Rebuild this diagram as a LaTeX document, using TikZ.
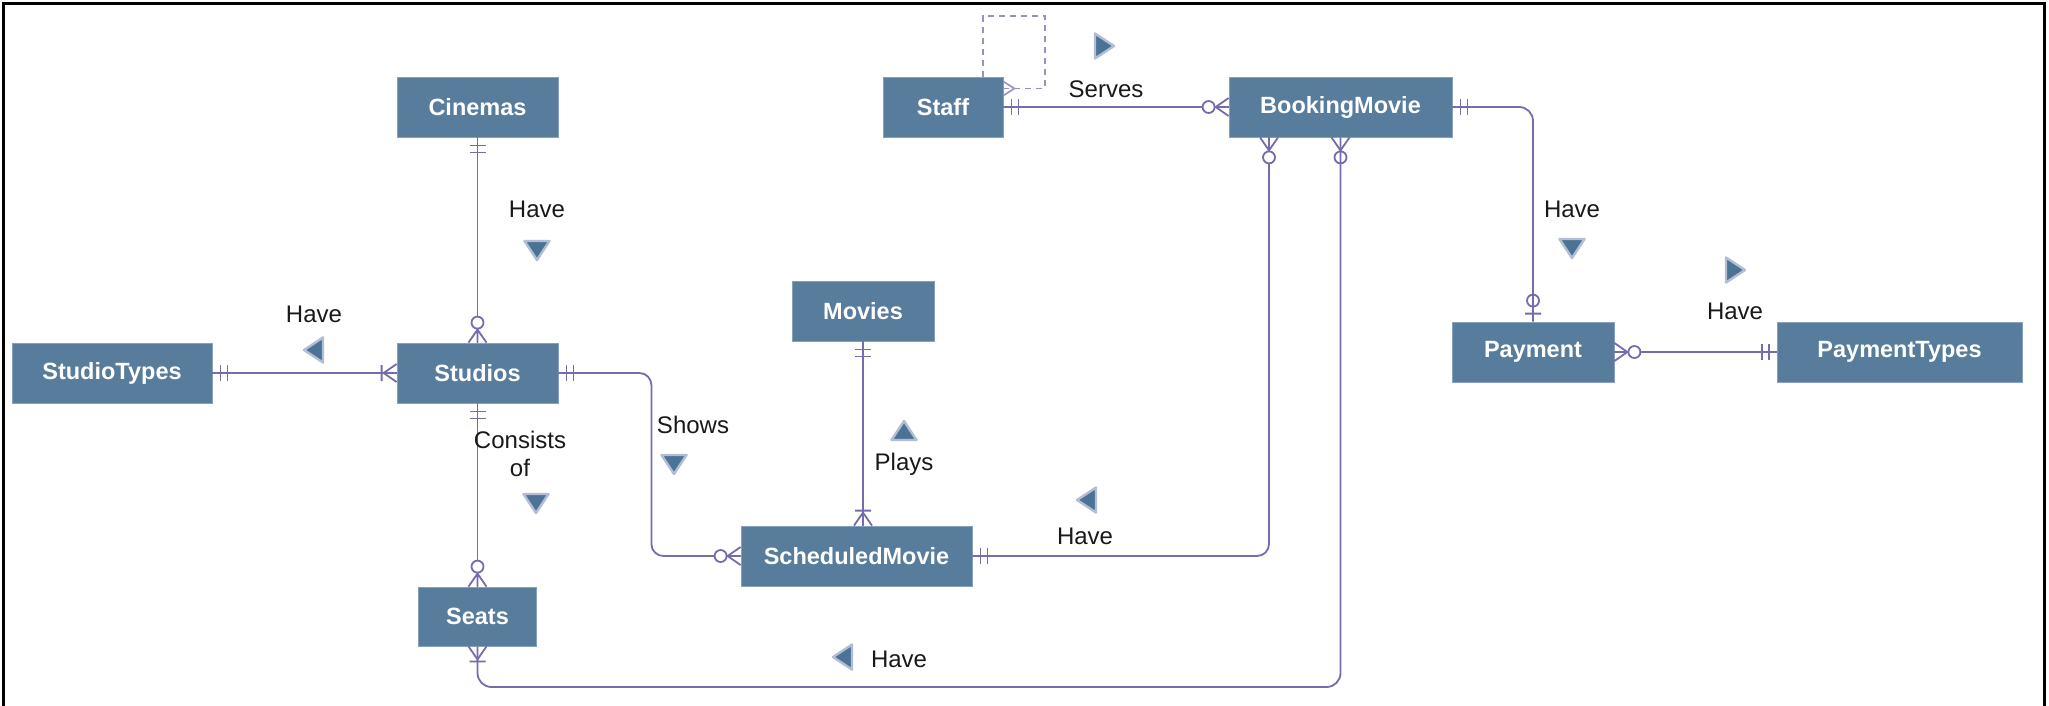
\documentclass[tikz,border=0pt]{standalone}
\usepackage{fontspec}
\setmainfont{Liberation Sans}
\usetikzlibrary{calc}
\definecolor{boxfill}{RGB}{88,124,155}
\definecolor{boxedge}{RGB}{135,160,190}
\definecolor{connc}{RGB}{118,108,172}
\definecolor{loopc}{RGB}{150,145,190}
\definecolor{trifill}{RGB}{76,114,150}
\definecolor{triedge}{RGB}{178,190,212}
\definecolor{lblc}{RGB}{25,25,25}
\tikzset{
  entity/.style={draw=boxedge, line width=0.8pt, fill=boxfill, text=white,
    font=\fontsize{23.5}{26}\selectfont\bfseries, inner sep=0pt, minimum height=60pt},
  conn/.style={draw=connc, line width=1.8pt},
  connm/.style={draw=connc, line width=1.8pt},
  loopline/.style={draw=loopc, line width=1.6pt, dash pattern=on 6pt off 5pt},
  lbl/.style={text=lblc, font=\fontsize{24}{28}\selectfont, inner sep=0pt, align=center},
  tri/.style={fill=trifill, draw=triedge, line width=2.4pt, line join=round},
  frame/.style={draw=black, line width=3pt}
}
\newcommand{\oneone}[2]{\begin{scope}[shift={(#1)},rotate=#2]\draw[connm] (8,-8)--(8,8) (15,-8)--(15,8);\end{scope}}
\newcommand{\zeromany}[2]{\begin{scope}[shift={(#1)},rotate=#2]\draw[connm] (0,-9)--(13,0)--(0,9) (0,0)--(14,0);\draw[connm,fill=white] (20,0) circle (6pt);\end{scope}}
\newcommand{\zeromanythru}[2]{\begin{scope}[shift={(#1)},rotate=#2]\draw[connm] (0,-9)--(13,0)--(0,9) (20,0) circle (6pt);\end{scope}}
\newcommand{\onemany}[2]{\begin{scope}[shift={(#1)},rotate=#2]\draw[connm] (0,-9)--(13,0)--(0,9) (15,-8)--(15,8);\end{scope}}
\newcommand{\zeroone}[2]{\begin{scope}[shift={(#1)},rotate=#2]\draw[connm] (8,-8)--(8,8) (21,0) circle (6pt);\end{scope}}
\newcommand{\loopfoot}[2]{\begin{scope}[shift={(#1)},rotate=#2]\draw[draw=loopc,line width=1.6pt] (0,-7)--(11,0)--(0,7);\end{scope}}
\newcommand{\tri}[2]{\filldraw[tri, shift={(#1)}, rotate=#2] (-12.5,-9)--(12.5,-9)--(0,10)--cycle;}
\begin{document}
\begin{tikzpicture}[x=1pt,y=-1pt]
\useasboundingbox (0,0) rectangle (2049,705);
\fill[white] (0,0) rectangle (2049,705);
\draw[frame] (3.5,710) -- (3.5,3) -- (2044,3) -- (2044,710);

% entities
\node[entity, minimum width=161pt] (cinemas) at (477.5,107) {Cinemas};
\node[entity, minimum width=120pt] (staff) at (943,107) {Staff};
\node[entity, minimum width=223pt] (booking) at (1340.5,107) {BookingMovie};
\node[entity, minimum width=142pt] (movies) at (863,311) {Movies};
\node[entity, minimum width=200pt] (studiotypes) at (112,373) {StudioTypes};
\node[entity, minimum width=161pt] (studios) at (477.5,373) {Studios};
\node[entity, minimum width=162pt] (payment) at (1533,352) {Payment};
\node[entity, minimum width=245pt] (paymenttypes) at (1899.5,352) {PaymentTypes};
\node[entity, minimum width=231pt] (sched) at (856.5,556) {ScheduledMovie};
\node[entity, minimum width=118pt, minimum height=59pt] (seats) at (477.5,616.5) {Seats};

% helper coordinates
\coordinate (bottomrun) at (0,687);
\coordinate (loopcorner) at (1045,16);
\coordinate (bkleft) at ([xshift=-71.5pt]booking.south);
\coordinate (staffloop) at ([yshift=18.5pt]staff.east);
\coordinate (playsend) at (movies.south |- sched.north);

% connectors
\draw[conn] (cinemas.south) -- (studios.north);
\draw[conn] (studiotypes.east) -- (studios.west);
\draw[conn] (studios.south) -- (seats.north);
\draw[conn, rounded corners=12pt] (studios.east) -- ++(93,0) |- (sched.west);
\draw[conn] (movies.south) -- (playsend);
\draw[conn, rounded corners=12pt] (sched.east) -| (bkleft);
\draw[conn, rounded corners=14pt] (seats.south) -- (seats.south |- bottomrun) -| (booking.south);
\draw[conn] (staff.east) -- (booking.west);
\draw[conn, rounded corners=14pt] (booking.east) -| (payment.north);
\draw[conn] (payment.east) -- (paymenttypes.west);
\draw[loopline] ([xshift=40pt]staff.north) |- (loopcorner) |- (staffloop);

% end marks
\oneone{cinemas.south}{-90}
\zeromany{studios.north}{90}
\oneone{studiotypes.east}{0}
\onemany{studios.west}{180}
\oneone{studios.south}{-90}
\zeromany{seats.north}{90}
\oneone{studios.east}{0}
\zeromany{sched.west}{180}
\oneone{movies.south}{-90}
\onemany{playsend}{90}
\oneone{sched.east}{0}
\zeromany{bkleft}{-90}
\onemany{seats.south}{-90}
\zeromanythru{booking.south}{-90}
\oneone{staff.east}{0}
\zeromany{booking.west}{180}
\loopfoot{staffloop}{0}
\oneone{booking.east}{0}
\zeroone{payment.north}{90}
\zeromany{payment.east}{0}
\oneone{paymenttypes.west}{180}

% labels
\node[lbl] (l1) at (537,209) {Have};
\node[lbl] (l2) at (314,314) {Have};
\node[lbl] (l3) at (520,454) {Consists\\of};
\node[lbl] (l4) at (693,425) {Shows};
\node[lbl] (l5) at (904,464) {Plays};
\node[lbl] (l6) at (1085,536) {Have};
\node[lbl] (l7) at (899,659) {Have};
\node[lbl] (l8) at (1106,89) {Serves};
\node[lbl] (l9) at (1572,209) {Have};
\node[lbl] (l10) at (1735,311) {Have};

% direction triangles
\tri{537,250}{0}
\tri{314,350}{-90}
\tri{536,503}{0}
\tri{674,464}{0}
\tri{904,431}{180}
\tri{1087,500}{-90}
\tri{843,657}{-90}
\tri{1104,46}{90}
\tri{1572,248}{0}
\tri{1735,270}{90}
\end{tikzpicture}
\end{document}
